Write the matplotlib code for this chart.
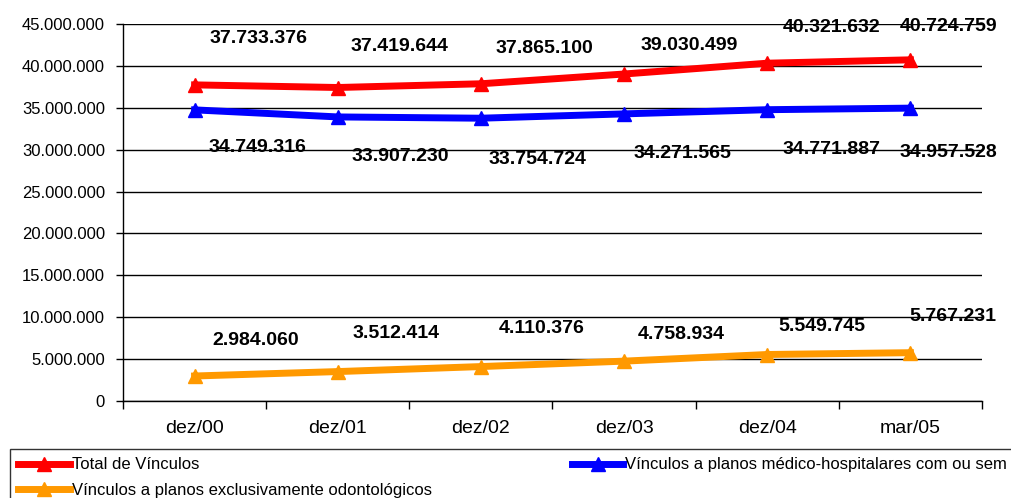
import matplotlib.pyplot as plt
import numpy as np
from matplotlib.ticker import FuncFormatter, FixedLocator, NullFormatter

plt.rcParams['font.family'] = ['Liberation Sans', 'DejaVu Sans']

# Data
periods = ["dez/00", "dez/01", "dez/02", "dez/03", "dez/04", "mar/05"]
total = [37733376, 37419644, 37865100, 39030499, 40321632, 40724759]
medico = [34749316, 33907230, 33754724, 34271565, 34771887, 34957528]
odonto = [2984060, 3512414, 4110376, 4758934, 5549745, 5767231]

labels = ["Total de Vínculos",
          "Vínculos a planos médico-hospitalares com ou sem odontologia",
          "Vínculos a planos exclusivamente odontológicos"]

# label offsets in pixels (dx, dy) relative to each point
off_total = [(64, 46), (62, 41), (63, 35), (65, 29), (64, 36), (38, 33)]
off_medico = [(63, -38), (63, -40), (57, -41), (58, -40), (64, -40), (38, -44)]
off_odonto = [(61, 36), (58, 38), (61, 38), (57, 27), (55, 28), (42, 36)]


def fmt(v):
    return f"{int(v):,}".replace(",", ".")


fig = plt.figure(figsize=(10.12, 4.98), dpi=100)
ax = fig.add_axes([123 / 1012, 1 - 401 / 498, (982 - 123) / 1012, (401 - 24) / 498])

x = np.arange(len(periods))
series = [(total, "#FF0000", off_total, labels[0]),
          (medico, "#0000FF", off_medico, labels[1]),
          (odonto, "#FF9900", off_odonto, labels[2])]
handles = []
for vals, col, offs, lab in series:
    h, = ax.plot(x, vals, color=col, lw=5, marker="^", ms=10, label=lab, zorder=3)
    handles.append(h)
    for xi, v, (dx, dy) in zip(x, vals, offs):
        ax.annotate(fmt(v), (xi, v), xytext=(dx * 0.72, dy * 0.72),
                    textcoords="offset points", ha="center", va="center",
                    fontsize=14, fontweight="bold", color="black", zorder=4)

ax.set_xlim(-0.5, len(periods) - 0.5)
ax.set_ylim(0, 45000000)
ax.set_yticks(np.arange(0, 45000001, 5000000))
ax.yaxis.set_major_formatter(FuncFormatter(lambda v, p: fmt(v)))
ax.grid(axis="y", color="black", lw=1)
ax.set_axisbelow(True)

ax.xaxis.set_major_locator(FixedLocator(np.arange(-0.5, len(periods), 1.0)))
ax.xaxis.set_major_formatter(NullFormatter())
ax.xaxis.set_minor_locator(FixedLocator(x))
ax.set_xticklabels(periods, minor=True)
ax.tick_params(axis="x", which="major", length=6, direction="out", width=1)
ax.tick_params(axis="x", which="minor", length=0, pad=14, labelsize=14)
ax.tick_params(axis="y", length=5, width=1, pad=8, labelsize=12)

for s in ["top", "right"]:
    ax.spines[s].set_visible(False)
for s in ["left", "bottom"]:
    ax.spines[s].set_color("black")
    ax.spines[s].set_linewidth(1)

leg = fig.legend([handles[0], handles[2], handles[1]],
                 [labels[0], labels[2], labels[1]],
                 loc="upper left", bbox_to_anchor=(10 / 1012, 1 - 449 / 498),
                 ncol=2, fontsize=12, frameon=True, fancybox=False,
                 handlelength=3.1, handletextpad=0.1, columnspacing=8.4,
                 borderaxespad=0, borderpad=0.5, labelspacing=0.65)
leg.get_frame().set_edgecolor("black")
leg.get_frame().set_linewidth(1)

fig.savefig("out.png", dpi=100)
